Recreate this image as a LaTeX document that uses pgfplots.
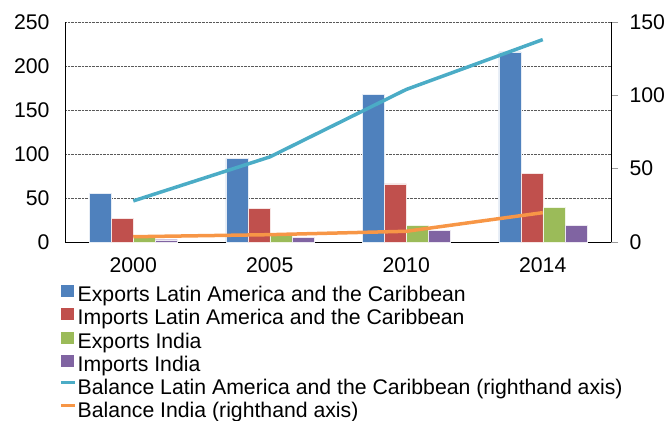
\documentclass[border=0pt]{standalone}
\usepackage{fontspec}
\setmainfont{Liberation Sans}
\usepackage{pgfplots}
\pgfplotsset{compat=1.18}

\definecolor{cblue}{HTML}{4F81BD}
\definecolor{cred}{HTML}{C0504D}
\definecolor{cgreen}{HTML}{9BBB59}
\definecolor{cpurple}{HTML}{8064A2}
\definecolor{cteal}{HTML}{4BACC6}
\definecolor{corange}{HTML}{F79646}

\pgfplotsset{
  every axis/.append style={
    width=546bp, height=220bp, scale only axis,
    xmin=-0.5, xmax=3.5,
    tick label style={font=\fontsize{21.3}{23}\selectfont},
    /pgf/number format/assume math mode=true,
    axis line style={-, black, line width=0.8bp},
  },
  barsq/.style={legend image code/.code={\fill[#1] (0bp,0bp) rectangle (12bp,11bp);}},
}

\begin{document}
\begin{tikzpicture}
\path[use as bounding box] (-65bp,-179bp) rectangle (602bp,242bp);

% bars, left axis
\begin{axis}[
  at={(0,0)}, anchor=south west,
  ybar=0pt, bar width=22bp,
  ymin=0, ymax=250, ytick={0,50,...,250},
  xtick={0,1,2,3}, xticklabels={2000,2005,2010,2014},
  axis x line*=bottom, axis y line*=left,
  tick style={draw=none},
  ymajorgrids, grid style={black!65, densely dotted, line width=0.8bp},
  xticklabel style={yshift=-8bp},
  yticklabel style={xshift=-12bp},
]
\addplot[fill=cblue, draw=white!85!cblue, line width=0.4bp] coordinates {(0,55) (1,95) (2,168) (3,216)};
\addplot[fill=cred, draw=white!85!cred, line width=0.4bp] coordinates {(0,27) (1,38) (2,66) (3,78)};
\addplot[fill=cgreen, draw=white!85!cgreen, line width=0.4bp] coordinates {(0,6) (1,8) (2,19) (3,39)};
\addplot[fill=cpurple, draw=white!85!cpurple, line width=0.4bp] coordinates {(0,2.6) (1,5) (2,13) (3,19)};
\end{axis}

% balances, right axis
\begin{axis}[
  at={(0,0)}, anchor=south west,
  ymin=0, ymax=150, ytick={0,50,100,150},
  axis y line*=right, axis x line=none,
  ytick style={black!40, line width=0.8bp},
  tick align=outside, major tick length=7bp,
  yticklabel style={xshift=8bp},
  legend cell align=left,
  legend style={at={(-0.011,-0.194)}, anchor=north west, draw=none, fill=none,
    font=\fontsize{21.3}{23}\selectfont, inner sep=0pt, row sep=1.5bp,
    nodes={inner sep=1bp, text height=15bp, text depth=4.5bp}},
]
\addlegendimage{barsq=cblue}
\addlegendentry{Exports Latin America and the Caribbean}
\addlegendimage{barsq=cred}
\addlegendentry{Imports Latin America and the Caribbean}
\addlegendimage{barsq=cgreen}
\addlegendentry{Exports India}
\addlegendimage{barsq=cpurple}
\addlegendentry{Imports India}
\addplot[cteal, line width=3.5bp, legend image code/.code={\draw[cteal, line width=3.5bp] (0bp,7bp) -- (14bp,7bp);}]
  coordinates {(0,28) (1,58) (2,104) (3,138)};
\addlegendentry{Balance Latin America and the Caribbean (righthand axis)}
\addplot[corange, line width=3.5bp, legend image code/.code={\draw[corange, line width=3.5bp] (0bp,7bp) -- (14bp,7bp);}]
  coordinates {(0,3.6) (1,5) (2,7.3) (3,20)};
\addlegendentry{Balance India (righthand axis)}
\end{axis}
\end{tikzpicture}
\end{document}
